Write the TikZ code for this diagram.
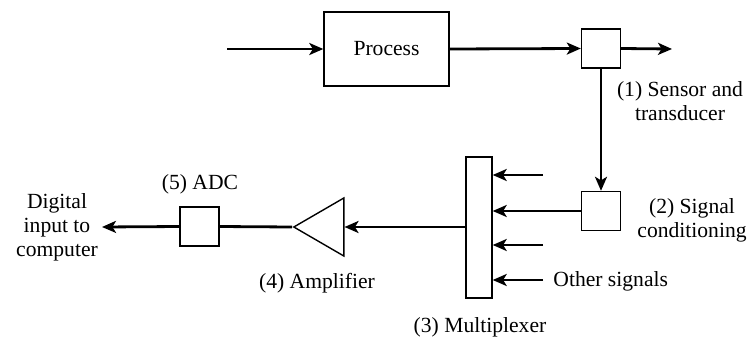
\documentclass[tikz,border=0pt]{standalone}
\usepackage{fontspec}
\setmainfont{Liberation Serif}
\usetikzlibrary{arrows.meta,shapes.geometric}

\tikzset{
  blk/.style={draw, line width=0.7pt, inner sep=0pt},
  sig/.style={line width=1.4pt, -{Stealth[length=7pt,width=6pt,inset=1.8pt]}},
  wire/.style={line width=1.4pt},
  lbl/.style={font=\fontsize{10.8}{12}\selectfont, align=center, inner sep=0pt}
}

\begin{document}
\begin{tikzpicture}[x=0.5pt, y=-0.5pt]
    \useasboundingbox (0,0) rectangle (753,337);
    % blocks
    \node[blk, minimum width=62.5pt, minimum height=37pt, font=\fontsize{10.8}{12}\selectfont] (process) at (386.5,49) {Process};
    \node[blk, minimum size=19.5pt] (sensor) at (601,48.5) {};
    \node[blk, minimum size=19.5pt] (cond) at (601,211) {};
    \node[blk, minimum width=13pt, minimum height=70.5pt] (mux) at (479,227.5) {};
    \node[blk, isosceles triangle, isosceles triangle stretches, shape border rotate=180,
          minimum width=29pt, minimum height=25pt, anchor=apex] (amp) at (292,227) {};
    \node[blk, minimum size=19.5pt] (adc) at (199.5,226.5) {};
    % free ends
    \coordinate (in) at (227,49);
    \coordinate (out) at (672,49);
    \coordinate (dig) at (102,227);
    \coordinate (s1) at (543,175);
    \coordinate (s3) at (543,245);
    \coordinate (s4) at (543,280);
    % connectors
    \draw[sig] (in) -- (process.west);
    \draw[sig] (process.east) -- (sensor.west);
    \draw[sig] (sensor.east) -- (out);
    \draw[sig] (sensor.south) -- (cond.north);
    \draw[sig] (cond.west) -- (cond.west -| mux.east);
    \draw[sig] (s1) -- (s1 -| mux.east);
    \draw[sig] (s3) -- (s3 -| mux.east);
    \draw[sig] (s4) -- (s4 -| mux.east);
    \draw[sig] (mux.west |- amp.lower side) -- (amp.lower side);
    \draw[wire] (amp.apex) -- (adc.east);
    \draw[sig] (adc.west) -- (dig);
    % labels
    \node[lbl] at (680,101) {(1) Sensor and\\transducer};
    \node[lbl] at (692,220) {(2) Signal\\conditioning};
    \node[lbl, anchor=west] at (553,281) {Other signals};
    \node[lbl] at (480,327) {(3) Multiplexer};
    \node[lbl] at (317,283) {(4) Amplifier};
    \node[lbl] at (200,184) {(5) ADC};
    \node[lbl] at (57,227) {Digital\\input to\\computer};
\end{tikzpicture}
\end{document}
